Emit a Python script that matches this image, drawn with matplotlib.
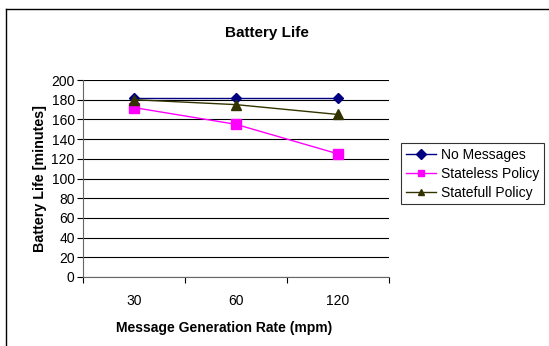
import matplotlib.pyplot as plt
import numpy as np

plt.rcParams['font.family'] = ['Liberation Sans', 'DejaVu Sans']

# data
rates = ['30', '60', '120']
no_messages = [182, 182, 182]
stateless = [172, 155, 125]
statefull = [180, 175, 165]
y_ticks = list(range(0, 201, 20))

fig = plt.figure(figsize=(5.49, 3.46), dpi=100)
ax = fig.add_axes([83 / 549, 1 - 277 / 346, 306 / 549, 197 / 346])

x = np.arange(len(rates))
ax.plot(x, no_messages, color='#000080', marker='D', markersize=5, lw=1, label='No Messages')
ax.plot(x, stateless, color='#FF00FF', marker='s', markersize=7, lw=1, label='Stateless Policy')
ax.plot(x, statefull, color='#333300', marker='^', markersize=7, lw=1, label='Statefull Policy')

ax.set_xlim(-0.5, 2.5)
ax.set_ylim(0, 200)
ax.set_yticks(y_ticks)
ax.yaxis.grid(True, color='black', lw=0.8)
ax.set_axisbelow(True)

# category labels centered, tick marks at category boundaries
ax.set_xticks(x)
ax.set_xticklabels(rates)
ax.tick_params(axis='x', length=0, pad=12, labelsize=10)
ax.set_xticks(np.arange(-0.5, 3, 1), minor=True)
ax.tick_params(axis='x', which='minor', length=4, direction='out', width=0.8, color='black')
ax.tick_params(axis='y', length=4, width=0.8, labelsize=10, pad=2)

for s in ['top', 'right']:
    ax.spines[s].set_visible(False)
ax.spines['left'].set_color('#666666')
ax.spines['bottom'].set_color('#666666')

ax.set_xlabel('Message Generation Rate (mpm)', fontweight='bold', fontsize=10)
ax.xaxis.set_label_coords((224 - 83) / 306, (277 - 328) / 197)
ax.xaxis.label.set_va('center')
ax.set_ylabel('Battery Life [minutes]', fontweight='bold', fontsize=10.3, labelpad=3)
fig.text(267 / 549, 1 - 33 / 346, 'Battery Life', ha='center', va='center',
         fontweight='bold', fontsize=11)

leg = ax.legend(loc='upper left', bbox_to_anchor=(401 / 549, 1 - 143 / 346),
                bbox_transform=fig.transFigure, frameon=True, fancybox=False,
                edgecolor='black', fontsize=10, handlelength=2.2, borderpad=0.35,
                labelspacing=0.35, handletextpad=0.3, borderaxespad=0)
leg.get_frame().set_linewidth(0.8)
for h in leg.legend_handles:
    h.set_markersize(5)

# outer chart border (left and top edges visible)
fig.add_artist(plt.Line2D([6 / 549, 6 / 549], [0, 1 - 9 / 346], color='black', lw=1,
                          transform=fig.transFigure))
fig.add_artist(plt.Line2D([6 / 549, 1], [1 - 9 / 346, 1 - 9 / 346], color='black', lw=1,
                          transform=fig.transFigure))

fig.savefig('out.png', dpi=100)
